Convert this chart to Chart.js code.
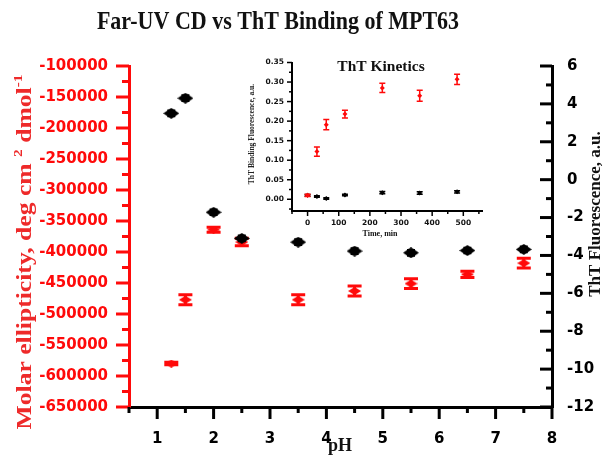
<!DOCTYPE html>
<html>
<head>
<meta charset="utf-8">
<script src="https://cdn.jsdelivr.net/npm/chart.js@4.4.1/dist/chart.umd.min.js"></script>
<style>
  body { margin: 0; background: #fff; }
  #wrap { position: relative; width: 604px; height: 457px; }
  #main { position: absolute; left: 0; top: 0; }
  #inset { position: absolute; left: 240px; top: 50px; }
</style>
</head>
<body>
<div id="wrap">
  <canvas id="main" width="604" height="457"></canvas>
  <canvas id="inset" width="250" height="190"></canvas>
</div>
<script>
// main chart data
const pH = [1.25, 1.5, 2, 2.5, 3.5, 4.5, 5.5, 6.5, 7.5];
const ellipticity = [-580000, -477000, -364000, -384000, -477000, -463000, -451000, -436000, -418000];
const ellipticityErr = [2000, 8000, 4000, 6000, 8000, 8000, 8000, 5000, 8000];
const thtFluor = [3.5, 4.3, -1.72, -3.1, -3.3, -3.77, -3.86, -3.74, -3.68];
const thtFluorErr = [0.15, 0.15, 0.15, 0.15, 0.15, 0.15, 0.15, 0.15, 0.15];
const xTicks = [1, 2, 3, 4, 5, 6, 7, 8];
const leftTicks = [-650000, -600000, -550000, -500000, -450000, -400000, -350000, -300000, -250000, -200000, -150000, -100000];
const rightTicks = [-12, -10, -8, -6, -4, -2, 0, 2, 4, 6];

// inset data
const timeMin = [0, 30, 60, 120, 240, 360, 480];
const kinRed = [0.010, 0.122, 0.191, 0.218, 0.285, 0.265, 0.307];
const kinRedErr = [0.003, 0.012, 0.013, 0.010, 0.012, 0.014, 0.013];
const kinBlack = [0.010, 0.007, 0.002, 0.011, 0.017, 0.016, 0.019];
const kinBlackErr = [0.002, 0.002, 0.002, 0.002, 0.003, 0.003, 0.003];
const timeTicks = [0, 100, 200, 300, 400, 500];
const kinTicks = [0, 0.05, 0.1, 0.15, 0.2, 0.25, 0.3, 0.35];

const RED = '#ff0a0a';
const SERIF = '"Liberation Serif", "Times New Roman", serif';
const SANS = '"DejaVu Sans", sans-serif';

function diamond(w, h, color) {
    const c = document.createElement('canvas');
    c.width = w; c.height = h;
    const g = c.getContext('2d');
    g.fillStyle = color;
    g.beginPath();
    g.moveTo(w / 2, 0); g.lineTo(w, h / 2); g.lineTo(w / 2, h); g.lineTo(0, h / 2);
    g.closePath();
    g.fill();
    return c;
}

function toPoints(xs, ys) {
    return xs.map((x, i) => ({ x: x, y: ys[i] }));
}

// error bars drawn right after each dataset
const errorBars = {
    id: 'errorBars',
    afterDatasetDraw(chart, args) {
        const ds = chart.data.datasets[args.index];
        if (!ds.errors) return;
        const meta = chart.getDatasetMeta(args.index);
        const ys = chart.scales[meta.yAxisID];
        const ctx = chart.ctx;
        ctx.save();
        ctx.strokeStyle = ds.errColor;
        ctx.lineWidth = ds.errWidth;
        ds.data.forEach((p, i) => {
            const x = chart.scales.x.getPixelForValue(p.x);
            const top = ys.getPixelForValue(p.y + ds.errors[i]);
            const bot = ys.getPixelForValue(p.y - ds.errors[i]);
            ctx.beginPath();
            ctx.moveTo(x, top); ctx.lineTo(x, bot);
            ctx.moveTo(x - ds.capW, top); ctx.lineTo(x + ds.capW, top);
            ctx.moveTo(x - ds.capW, bot); ctx.lineTo(x + ds.capW, bot);
            ctx.stroke();
        });
        ctx.restore();
    }
};

// tick marks (major + minor) drawn by hand so direction/length can differ per axis
function drawTicks(ctx, scale, ticks, dir, major, minor, color, width, horizontal, edge) {
    ctx.save();
    ctx.strokeStyle = color;
    ctx.lineWidth = width;
    const vals = [];
    ticks.forEach((v, i) => {
        vals.push([v, major]);
        if (i < ticks.length - 1) vals.push([(v + ticks[i + 1]) / 2, minor]);
    });
    const step = ticks[1] - ticks[0];
    if (ticks[0] - step / 2 >= scale.min) vals.push([ticks[0] - step / 2, minor]);
    if (ticks[ticks.length - 1] + step / 2 <= scale.max) vals.push([ticks[ticks.length - 1] + step / 2, minor]);
    vals.forEach(([v, len]) => {
        const p = scale.getPixelForValue(v);
        ctx.beginPath();
        if (horizontal) { ctx.moveTo(p, edge); ctx.lineTo(p, edge + dir * len); }
        else { ctx.moveTo(edge, p); ctx.lineTo(edge + dir * len, p); }
        ctx.stroke();
    });
    ctx.restore();
}

function rotatedRich(ctx, parts, x, y, angle, size, color, stretch) {
    ctx.save();
    ctx.translate(x, y);
    ctx.rotate(angle);
    ctx.scale(stretch || 1, 1);
    ctx.fillStyle = color;
    ctx.textBaseline = 'middle';
    let total = 0;
    parts.forEach(p => {
        ctx.font = 'bold ' + (p.sup ? size * 0.6 : size) + 'px ' + SERIF;
        total += ctx.measureText(p.t).width;
    });
    let cx = -total / 2;
    parts.forEach(p => {
        ctx.font = 'bold ' + (p.sup ? size * 0.6 : size) + 'px ' + SERIF;
        ctx.textAlign = 'left';
        ctx.fillText(p.t, cx, p.sup ? -size * 0.35 : 0);
        cx += ctx.measureText(p.t).width;
    });
    ctx.restore();
}

const mainDecor = {
    id: 'mainDecor',
    afterDraw(chart) {
        const ctx = chart.ctx;
        const a = chart.chartArea;
        const s = chart.scales;
        drawTicks(ctx, s.y, leftTicks, -1, 13, 7, RED, 3, false, a.left);
        drawTicks(ctx, s.y2, rightTicks, -1, 12, 6, '#000', 3, false, a.right);
        drawTicks(ctx, s.x, xTicks, 1, 12, 6, '#000', 3, true, a.bottom);

        ctx.save();
        ctx.fillStyle = '#111';
        ctx.textAlign = 'center';
        ctx.textBaseline = 'middle';
        ctx.save();
        ctx.translate(278, 22);
        ctx.scale(1, 1.18);
        ctx.font = 'bold 22px ' + SERIF;
        ctx.fillText('Far-UV CD vs ThT Binding of MPT63', 0, 0);
        ctx.restore();
        ctx.font = 'bold 18px ' + SERIF;
        ctx.fillText('pH', 340, 446);
        ctx.restore();

        rotatedRich(ctx, [
            { t: 'Molar ellipticity, deg cm ' }, { t: '2', sup: true }, { t: ' dmol' }, { t: '-1', sup: true }
        ], 26, 252, -Math.PI / 2, 21, '#ee2a2a', 1.22);
        rotatedRich(ctx, [{ t: 'ThT Fluorescence, a.u.' }], 596, 214, -Math.PI / 2, 17, '#111', 1);
    }
};

const plainLabel = v => String(v);

const mainCtx = document.getElementById('main').getContext('2d');
new Chart(mainCtx, {
    type: 'scatter',
    data: {
        datasets: [
            {
                label: 'ThT',
                data: toPoints(pH, thtFluor),
                yAxisID: 'y2',
                pointStyle: diamond(16, 11, '#000'),
                errors: thtFluorErr, errColor: '#000', errWidth: 2, capW: 4
            },
            {
                label: 'CD',
                data: toPoints(pH, ellipticity),
                yAxisID: 'y',
                pointStyle: diamond(13, 8, RED),
                errors: ellipticityErr, errColor: RED, errWidth: 3, capW: 7
            }
        ]
    },
    options: {
        responsive: false,
        animation: false,
        layout: { padding: { top: 66, left: 0, right: 0, bottom: 0 } },
        plugins: { legend: { display: false }, tooltip: { enabled: false } },
        scales: {
            x: {
                type: 'linear', min: 0.5, max: 8,
                afterBuildTicks: sc => { sc.ticks = xTicks.map(v => ({ value: v })); },
                afterFit: sc => { sc.height = 50; },
                grid: { drawOnChartArea: false, drawTicks: false },
                border: { color: '#000', width: 3 },
                ticks: { color: '#000', padding: 23, callback: plainLabel, font: { family: SANS, size: 15, weight: 'bold' } }
            },
            y: {
                position: 'left', min: -650000, max: -100000,
                afterBuildTicks: sc => { sc.ticks = leftTicks.map(v => ({ value: v })); },
                afterFit: sc => { sc.width = 129; },
                grid: { drawOnChartArea: false, drawTicks: false },
                border: { color: RED, width: 3 },
                ticks: { color: RED, padding: 21, callback: plainLabel, font: { family: SANS, size: 15, weight: 'bold' } }
            },
            y2: {
                position: 'right', min: -12, max: 6,
                afterBuildTicks: sc => { sc.ticks = rightTicks.map(v => ({ value: v })); },
                afterFit: sc => { sc.width = 52; },
                grid: { drawOnChartArea: false, drawTicks: false },
                border: { color: '#000', width: 3 },
                ticks: { color: '#000', padding: 15, callback: plainLabel, font: { family: SANS, size: 15, weight: 'bold' } }
            }
        }
    },
    plugins: [errorBars, mainDecor]
});

const insetDecor = {
    id: 'insetDecor',
    afterDraw(chart) {
        const ctx = chart.ctx;
        const a = chart.chartArea;
        const s = chart.scales;
        drawTicks(ctx, s.y, kinTicks, -1, 5, 3, '#000', 1.5, false, a.left);
        drawTicks(ctx, s.x, timeTicks, 1, 5, 3, '#000', 1.5, true, a.bottom);
        ctx.save();
        ctx.fillStyle = '#111';
        ctx.textAlign = 'center';
        ctx.textBaseline = 'middle';
        ctx.font = 'bold 15.5px ' + SERIF;
        ctx.fillText('ThT Kinetics', 141, 17);
        ctx.font = 'bold 8px ' + SERIF;
        ctx.fillText('Time, min', 140, 184);
        ctx.restore();
        rotatedRich(ctx, [{ t: 'ThT Binding Fluorescence, a.u.' }], 12, 84, -Math.PI / 2, 7.5, '#222', 1);
    }
};

const insetCtx = document.getElementById('inset').getContext('2d');
new Chart(insetCtx, {
    type: 'scatter',
    data: {
        datasets: [
            {
                label: 'Kinetics red',
                data: toPoints(timeMin, kinRed),
                pointStyle: 'rectRot', pointRadius: 2.5,
                backgroundColor: RED, borderColor: RED, borderWidth: 0,
                errors: kinRedErr, errColor: RED, errWidth: 1.5, capW: 3
            },
            {
                label: 'Kinetics black',
                data: toPoints(timeMin, kinBlack),
                pointStyle: 'rectRot', pointRadius: 2.5,
                backgroundColor: '#000', borderColor: '#000', borderWidth: 0,
                errors: kinBlackErr, errColor: '#000', errWidth: 1.5, capW: 3
            }
        ]
    },
    options: {
        responsive: false,
        animation: false,
        layout: { padding: { top: 8, right: 8, left: 0, bottom: 0 } },
        plugins: { legend: { display: false }, tooltip: { enabled: false } },
        scales: {
            x: {
                type: 'linear', min: -50, max: 560,
                afterBuildTicks: sc => { sc.ticks = timeTicks.map(v => ({ value: v })); },
                afterFit: sc => { sc.height = 29; },
                grid: { drawOnChartArea: false, drawTicks: false },
                border: { color: '#000', width: 2 },
                ticks: { color: '#111', padding: 8, font: { family: SANS, size: 7.5, weight: 'bold' } }
            },
            y: {
                min: -0.03, max: 0.35,
                afterBuildTicks: sc => { sc.ticks = kinTicks.map(v => ({ value: v })); },
                afterFit: sc => { sc.width = 52; },
                grid: { drawOnChartArea: false, drawTicks: false },
                border: { color: '#000', width: 2 },
                ticks: {
                    color: '#111', padding: 8, font: { family: SANS, size: 7.5, weight: 'bold' },
                    callback: v => v.toFixed(2)
                }
            }
        }
    },
    plugins: [errorBars, insetDecor]
});
</script>
</body>
</html>
